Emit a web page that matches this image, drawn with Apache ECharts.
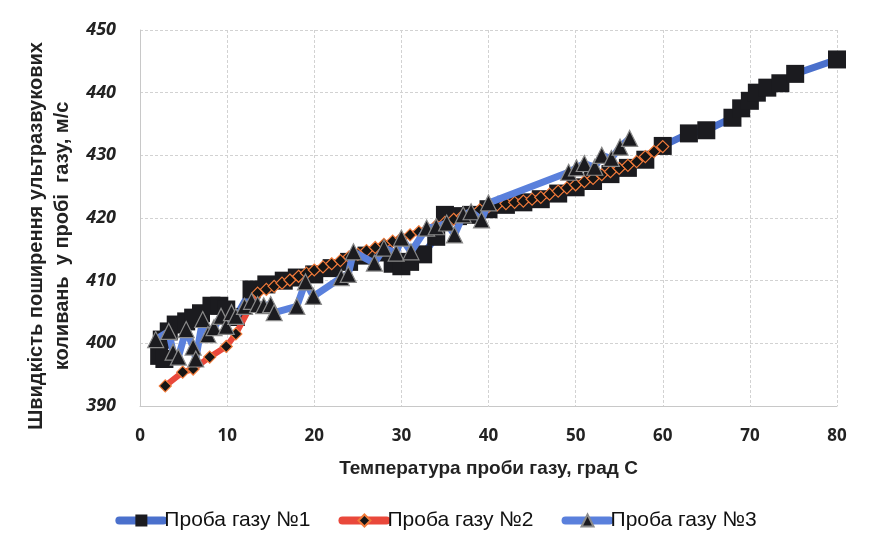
<!DOCTYPE html>
<html><head><meta charset="utf-8">
<script src="https://cdn.jsdelivr.net/npm/echarts@6/dist/echarts.min.js"></script>
<style>html,body{margin:0;padding:0;background:#fff}#c{width:872px;height:548px}</style>
</head><body><div id="c"></div>
<script>
const xTicks = [0,10,20,30,40,50,60,70,80];
const yTicks = [390,400,410,420,430,440,450];
const seriesNames = ['Проба газу №1','Проба газу №2','Проба газу №3'];

const s1x = [2.2,2.8,2.5,3.3,4.1,5.3,6.1,7.0,8.2,9.1,9.9,11.0,12.8,14.5,16.5,18,20,22,24,26,28,29,30,31,32.5,34,35,36.5,38,40,42,44,46,48,50,52,54,56,58,60,63,65,68,69,70,70.8,72,73.5,75.2,80];
const s1y = [398.0,397.5,400.6,401.9,403.0,403.5,404.1,404.8,406.0,406.0,405.4,404.2,408.6,409.4,410.0,410.5,411.0,412.0,413.0,414.0,414.5,412.7,412.3,413.0,414.2,417.0,420.5,420.3,420.5,421.4,422.1,422.5,423.0,423.9,424.9,425.9,427.0,428.0,429.3,431.5,433.5,434.0,436.0,437.5,438.7,440.0,440.8,441.5,443.0,445.3];

const s2x = [2.9,4.9,6.1,8.0,9.9,11.0,13.5,14.5,15.4,16.3,17.2,18.2,19.1,20,21,22,23,24,25,26,27,28,29,30,31,32,33,34,35,36,37,38,39,40,41,42,43,44,45,46,47,48,49,50,51,52,53,54,55,56,57,58,59,60];
const s2y = [393.2,395.4,395.9,397.8,399.5,401.5,408.0,408.6,409.1,409.6,410.1,410.7,411.2,411.7,412.2,412.7,413.2,413.8,414.2,414.8,415.3,415.8,416.3,416.8,417.3,417.8,418.3,418.8,419.3,419.8,420.3,420.8,421.3,421.8,422.1,422.3,422.5,422.7,423.0,423.3,423.8,424.3,424.8,425.3,425.8,426.3,426.9,427.4,427.9,428.4,429.0,429.8,430.6,431.4];

const s3x = [1.8,3.3,3.8,4.4,5.3,6.1,6.4,7.2,7.8,8.5,9.3,9.9,10.5,11.0,12.0,12.8,13.5,14.2,15.0,15.4,18.0,19.0,19.9,23.1,23.9,24.5,26.9,28.0,29.4,30.0,31.1,32.9,34.0,35.2,36.1,37.1,38.0,39.2,40.0,49.2,50.1,51.0,52.2,53.0,54.1,55.1,56.2];
const s3y = [400.6,401.9,398.6,397.8,402.2,399.4,397.5,403.8,401.4,402.5,404.3,402.7,404.9,404.3,405.9,406.7,406.2,406.0,406.2,404.9,405.9,409.8,407.5,410.5,411.0,414.6,412.8,415.2,414.4,416.8,414.6,418.4,418.6,419.2,417.3,420.5,421.0,419.7,422.4,427.3,428.0,428.7,428.1,430.0,429.5,431.3,432.7];

const pairs = (xs, ys) => xs.map((x,i)=>[x, ys[i]]);
const FONT = "'Liberation Sans',sans-serif";

const chart = echarts.init(document.getElementById('c'), null, {renderer:'canvas'});
chart.setOption({
  animation:false,
  backgroundColor:'#fff',
  grid:{left:140, right:35, top:30, bottom:142, containLabel:false},
  xAxis:{
    type:'value', min:xTicks[0], max:xTicks[xTicks.length-1], interval:10,
    name:'Температура проби газу, град С', nameLocation:'middle', nameGap:53,
    nameTextStyle:{fontFamily:FONT, fontWeight:'bold', fontSize:19, color:'#222'},
    axisLine:{show:true, lineStyle:{color:'#c8c8c8', width:1}},
    axisTick:{show:false},
    axisLabel:{fontFamily:"'Open Sans',sans-serif", fontWeight:'bold', fontSize:17, color:'#222', margin:22},
    splitLine:{show:true, lineStyle:{color:'#d2d2d2', type:[3,2], width:1}}
  },
  yAxis:{
    type:'value', min:yTicks[0], max:yTicks[yTicks.length-1], interval:10,
    name:'Швидкість поширення ультразвукових\nколивань  у пробі  газу, м/с', nameLocation:'middle', nameGap:50, nameRotate:90,
    nameTextStyle:{fontFamily:FONT, fontWeight:'bold', fontSize:20, color:'#222', lineHeight:26, padding:[0,36,0,0]},
    axisLine:{show:true, lineStyle:{color:'#c8c8c8', width:1}},
    axisTick:{show:false},
    axisLabel:{fontFamily:"'Open Sans',sans-serif", fontWeight:'bold', fontStyle:'italic', fontSize:18, color:'#222', margin:24},
    splitLine:{show:true, lineStyle:{color:'#d2d2d2', type:[3,2], width:1}}
  },
  legend:{
    bottom:12, left:'center', itemGap:28, itemWidth:44, itemHeight:15,
    lineStyle:{width:8, cap:'round'},
    textStyle:{fontFamily:FONT, fontSize:21, color:'#111', padding:[0,0,0,-4]},
    data:seriesNames
  },
  series:[
    {name:seriesNames[0], type:'line', data:pairs(s1x,s1y), symbol:'rect', symbolSize:18,
     lineStyle:{color:'#4a70cc', width:7}, itemStyle:{color:'#1b1b1f', borderColor:'#1b1b1f', borderWidth:0},
     color:'#4a70cc', z:2},
    {name:seriesNames[1], type:'line', data:pairs(s2x,s2y), symbol:'diamond', symbolSize:12,
     lineStyle:{color:'#e9483b', width:6}, itemStyle:{color:'#151515', borderColor:'#f07a3a', borderWidth:1.2},
     color:'#e9483b', z:3},
    {name:seriesNames[2], type:'line', data:pairs(s3x,s3y), symbol:'triangle', symbolSize:16,
     lineStyle:{color:'#5a80dc', width:7}, itemStyle:{color:'#1b1b1f', borderColor:'#8a8a8a', borderWidth:1.2},
     color:'#5a80dc', z:4}
  ]
});
</script></body></html>
